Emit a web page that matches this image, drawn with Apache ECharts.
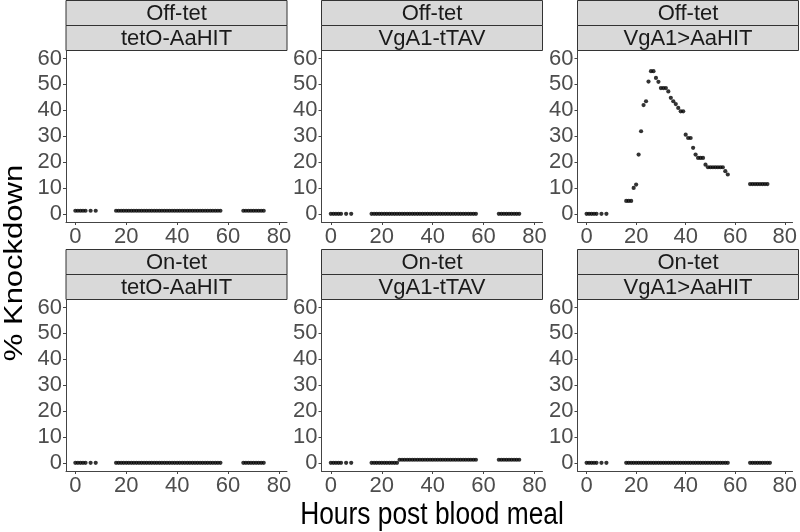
<!DOCTYPE html>
<html>
<head>
<meta charset="utf-8">
<script src="https://cdn.jsdelivr.net/npm/echarts@6/dist/echarts.min.js"></script>
<style>html,body{margin:0;padding:0;background:#fff}#c{width:800px;height:532px}</style>
</head>
<body>
<div id="c"></div>
<script>
// ---- data ----
const hours = [0,1,2,3,4,6,8,
  16,17,18,19,20,21,22,23,24,25,26,27,28,29,30,31,32,33,34,35,36,37,38,39,40,41,42,43,44,45,46,47,48,49,50,51,52,53,54,55,56,57,
  66,67,68,69,70,71,72,73,74];
const treatments = ["Off-tet","Off-tet","Off-tet","On-tet","On-tet","On-tet"];
const lines = ["tetO-AaHIT","VgA1-tTAV","VgA1>AaHIT","tetO-AaHIT","VgA1-tTAV","VgA1>AaHIT"];
const offTetO = [1.2,1.2,1.2,1.2,1.2,1.2,1.2,
  1.2,1.2,1.2,1.2,1.2,1.2,1.2,1.2,1.2,1.2,1.2,1.2,1.2,1.2,1.2,1.2,1.2,1.2,1.2,1.2,1.2,1.2,1.2,1.2,1.2,1.2,1.2,1.2,1.2,1.2,1.2,1.2,1.2,1.2,1.2,1.2,1.2,1.2,1.2,1.2,1.2,1.2,
  1.2,1.2,1.2,1.2,1.2,1.2,1.2,1.2,1.2];
const offVgTTAV = [0,0,0,0,0,0,0,
  0,0,0,0,0,0,0,0,0,0,0,0,0,0,0,0,0,0,0,0,0,0,0,0,0,0,0,0,0,0,0,0,0,0,0,0,0,0,0,0,0,0,
  0,0,0,0,0,0,0,0,0];
const offVgAaHIT = [0,0,0,0,0,0,0,
  5,5,5,10,11.3,22.9,31.9,42,43.5,51.1,55.1,55.1,52.5,51,48.6,48.6,48.6,47.3,44.8,43.5,42.4,40.9,39.6,39.6,30.6,29.3,29.3,25.5,22.9,21.6,21.6,21.6,19,18,18,18,18,18,18,18,16.5,
  15.2,11.5,11.5,11.5,11.5,11.5,11.5,11.5,11.5];
const onTetO = [0,0,0,0,0,0,0,
  0,0,0,0,0,0,0,0,0,0,0,0,0,0,0,0,0,0,0,0,0,0,0,0,0,0,0,0,0,0,0,0,0,0,0,0,0,0,0,0,0,0,
  0,0,0,0,0,0,0,0,0];
const onVgTTAV = [0,0,0,0,0,0,0,
  0,0,0,0,0,0,0,0,0,0,0,1.2,1.2,1.2,1.2,1.2,1.2,1.2,1.2,1.2,1.2,1.2,1.2,1.2,1.2,1.2,1.2,1.2,1.2,1.2,1.2,1.2,1.2,1.2,1.2,1.2,1.2,1.2,1.2,1.2,1.2,1.2,
  1.2,1.2,1.2,1.2,1.2,1.2,1.2,1.2,1.2];
const onVgAaHIT = [0,0,0,0,0,0,0,
  0,0,0,0,0,0,0,0,0,0,0,0,0,0,0,0,0,0,0,0,0,0,0,0,0,0,0,0,0,0,0,0,0,0,0,0,0,0,0,0,0,0,
  0,0,0,0,0,0,0,0,0];
const panelValues = [offTetO, offVgTTAV, offVgAaHIT, onTetO, onVgTTAV, onVgAaHIT];
const xTicks = [0,20,40,60,80];
const yTicks = [0,10,20,30,40,50,60];

// ---- layout ----
const colLeft = [66, 321.5, 577.5];
const panelW = 221;
const rowStripTop = [0.5, 249.5];
const stripH = 25;
const plotH = 171.5;
const font = "Liberation Sans, Arial, sans-serif";
const tickFont = "'Liberation Sans Narrow', 'Arial Narrow', 'Liberation Sans', sans-serif";

const grids = [], xAxes = [], yAxes = [], series = [], graphics = [];
for (let i = 0; i < 6; i++) {
  const r = Math.floor(i / 3), c = i % 3;
  const left = colLeft[c];
  const stripTop = rowStripTop[r];
  const top = stripTop + 2 * stripH;
  grids.push({left: left, top: top, width: panelW, height: plotH});
  xAxes.push({
    type: 'value', gridIndex: i, min: -3.67, max: 83.15,
    splitLine: {show: false},
    axisLine: {show: true, onZero: false, lineStyle: {color: '#444', width: 1}},
    axisTick: {show: true, customValues: xTicks, length: 3, lineStyle: {color: '#444'}},
    axisLabel: {customValues: xTicks, color: '#4d4d4d', fontSize: 22, fontFamily: tickFont, margin: 4}
  });
  yAxes.push({
    type: 'value', gridIndex: i, min: -3.15, max: 63.1,
    splitLine: {show: false},
    axisLine: {show: true, onZero: false, lineStyle: {color: '#444', width: 1}},
    axisTick: {show: true, customValues: yTicks, length: 3, lineStyle: {color: '#444'}},
    axisLabel: {customValues: yTicks, color: '#4d4d4d', fontSize: 22, fontFamily: tickFont, margin: 4}
  });
  series.push({
    type: 'scatter', xAxisIndex: i, yAxisIndex: i,
    data: hours.map((h, k) => [h, panelValues[i][k]]),
    symbolSize: 4.2, itemStyle: {color: '#000'}, silent: true
  });
  const labels = [treatments[i], lines[i]];
  for (let s = 0; s < 2; s++) {
    graphics.push({
      type: 'rect', silent: true,
      shape: {x: left, y: stripTop + s * stripH, width: panelW, height: stripH},
      style: {fill: '#d9d9d9', stroke: '#333', lineWidth: 1}
    });
    graphics.push({
      type: 'text', silent: true,
      x: left + panelW / 2, y: stripTop + s * stripH + stripH / 2 + 1,
      style: {text: labels[s], align: 'center', verticalAlign: 'middle', fill: '#1a1a1a', font: '22px ' + font}
    });
  }
}
graphics.push({
  type: 'text', silent: true, x: 15, y: 263, rotation: Math.PI / 2, scaleY: 0.85,
  style: {text: '% Knockdown', align: 'center', verticalAlign: 'middle', fill: '#000', font: '31px ' + font}
});
graphics.push({
  type: 'text', silent: true, x: 432, y: 515, scaleX: 0.85,
  style: {text: 'Hours post blood meal', align: 'center', verticalAlign: 'middle', fill: '#000', font: '31px ' + font}
});

const chart = echarts.init(document.getElementById('c'), null, {renderer: 'canvas'});
chart.setOption({
  animation: false,
  backgroundColor: '#fff',
  grid: grids, xAxis: xAxes, yAxis: yAxes, series: series,
  graphic: graphics
});
</script>
</body>
</html>
